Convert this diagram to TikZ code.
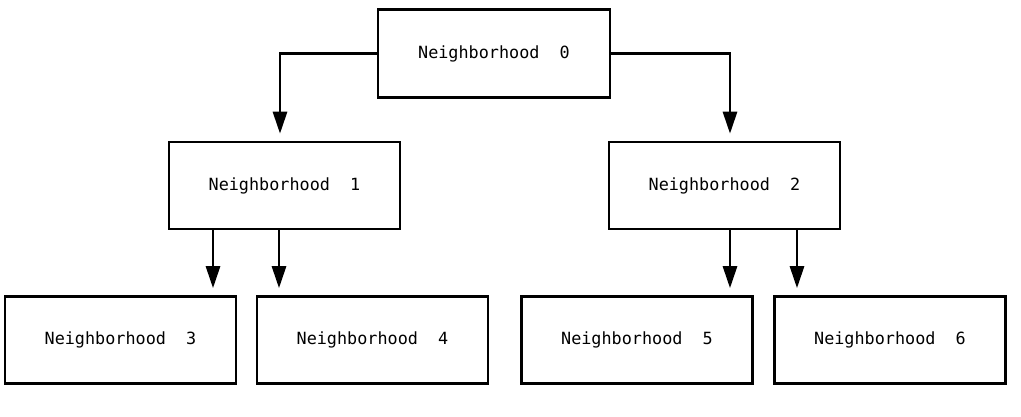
\documentclass[tikz,border=0pt]{standalone}
\usepackage{fontspec}
\setmonofont{DejaVu Sans Mono}
\usetikzlibrary{arrows.meta}
\begin{document}
\begin{tikzpicture}[x=1pt,y=-1pt,
  box/.style={draw=black, line width=2.6pt, fill=white, minimum width=231pt, minimum height=87pt, inner sep=0pt,
    font=\ttfamily\fontsize{16.8}{20}\selectfont},
  arr/.style={line width=2.8pt, -{Triangle[length=22pt,width=14pt]}, shorten >=7pt}]
\useasboundingbox (0,0) rectangle (1021,417);
\node[box, minimum width=232pt, minimum height=88pt] (n0) at (494,53.5) {Neighborhood~~0};
\node[box] (n1) at (284.5,185.5) {Neighborhood~~1};
\node[box] (n2) at (724.5,185.5) {Neighborhood~~2};
\node[box] (n3) at (120.5,340) {Neighborhood~~3};
\node[box] (n4) at (372.5,340) {Neighborhood~~4};
\node[box] (n5) at (637,340) {Neighborhood~~5};
\node[box] (n6) at (890,340) {Neighborhood~~6};
\draw[arr] (n0.west) -| ([xshift=-4.5pt]n1.north);
\draw[arr] (n0.east) -| ([xshift=5.5pt]n2.north);
\draw[arr] ([xshift=-71.5pt]n1.south) -- ([xshift=92.5pt]n3.north);
\draw[arr] ([xshift=-5.5pt]n1.south) -- ([xshift=-93.5pt]n4.north);
\draw[arr] ([xshift=5.5pt]n2.south) -- ([xshift=93pt]n5.north);
\draw[arr] ([xshift=72.5pt]n2.south) -- ([xshift=-93pt]n6.north);
\end{tikzpicture}
\end{document}
